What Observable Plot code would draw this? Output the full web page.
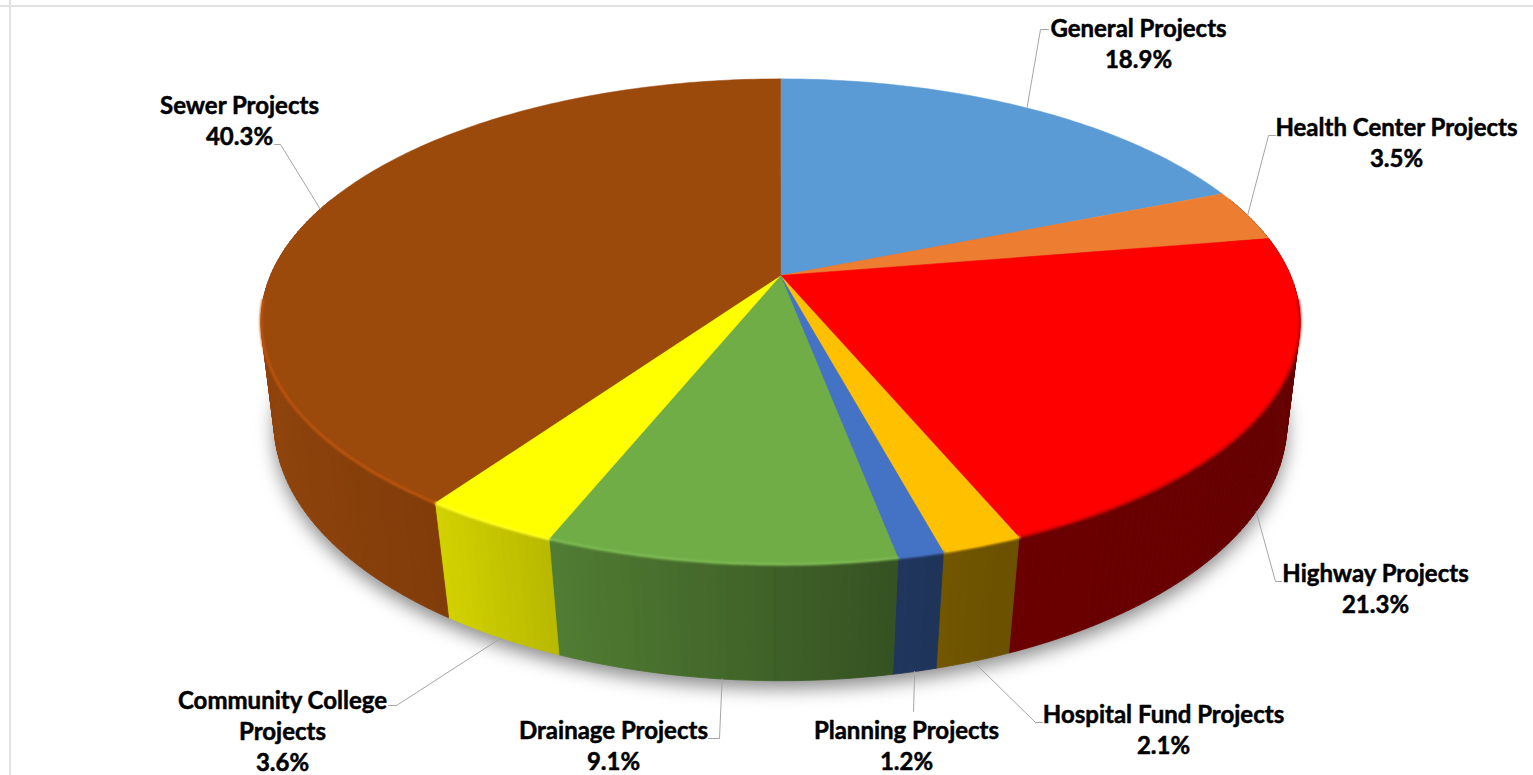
<!DOCTYPE html>
<html>
<head>
<meta charset="utf-8">
<style>html,body{margin:0;padding:0;background:#fff}svg{display:block}</style>
<script src="https://cdn.jsdelivr.net/npm/d3@7"></script>
<script src="https://cdn.jsdelivr.net/npm/@observablehq/plot@0.6"></script>
</head>
<body>
<div id="chart"></div>
<script>
// ---- data
const categories = ["General Projects","Health Center Projects","Highway Projects","Hospital Fund Projects","Planning Projects","Drainage Projects","Community College\nProjects","Sewer Projects"];
const shares = [18.9,3.5,21.3,2.1,1.2,9.1,3.6,40.3];
const topColors = ["#5b9bd5","#ed7d31","#ff0000","#ffc000","#4472c4","#70ad47","#ffff00","#9c490c"];
const rimColors = ["#5b9bd5","#ed7d31","#c40000","#ffc000","#4472c4","#7fbb55","#ffff20","#c0560f"];

// ---- layout of the labels and their leaders (page pixels)
const labelX = [1138,1396,1375,1163,906,613,282,239];
const labelY = [14,113,559,700,716,716,686,91];
const leaderFromWall = [false,false,true,true,true,true,true,false];
const leaderBend = [[1040,29],[1268,135],[1275,581],[1035,722],[913,711],[719,738],[396,705],[280,144]];
const leaderEnd = [[1048,29],[1275,135],[1281,581],[1042,722],[913,711],[708,738],[388,705],[274,144]];

// ---- perspective of the disc
const cx = 780;
const topRing = {a:510, b:234, y0:275, k:0.19};
const botRing = {a:499, b:250, y0:379, k:0.17};
const project = (ring, t) => {
  const d = 1 + ring.k*Math.cos(t);
  return [cx + ring.a*Math.sin(t)/d, ring.y0 - ring.b*Math.cos(t)/d];
};
const angle = p => p/100*2*Math.PI;
const cum = d3.cumsum(shares);
const starts = shares.map((_, i) => i ? cum[i-1] : 0);
const shade = d3.scaleLinear().domain([-1,-.65,-.43,.21,.44,1]).range([.92,.82,.72,.48,.42,.4]).clamp(true);
const darken = (c, f) => { const r = d3.rgb(c); return d3.rgb(r.r*f, r.g*f, r.b*f).formatHex(); };

const STEP = 0.25; // percent per arc sample
const samples = i => {
  const n = Math.max(2, Math.ceil(shares[i]/STEP));
  return d3.range(n + 1).map(j => angle(starts[i] + shares[i]*j/n));
};

// top faces
const faces = categories.flatMap((c, i) => {
  const pts = [[cx, topRing.y0], ...samples(i).map(t => project(topRing, t)), [cx, topRing.y0]];
  return pts.map(([x, y]) => ({x, y, id: i, fill: topColors[i]}));
});
// rim highlight along the front edge only
const rims = categories.flatMap((c, i) =>
  samples(i).filter(t => Math.cos(t) < -0.1).map(t => {
    const [x, y] = project(topRing, t);
    return {x, y, id: i, stroke: rimColors[i]};
  }));
// side wall strips, with the shade changing across the front
const wall = [];
categories.forEach((c, i) => {
  const ts = samples(i);
  for (let j = 0; j < ts.length - 1; j++) {
    const t0 = ts[j], t1 = ts[j+1];
    if (Math.cos((t0+t1)/2) > 0.35) continue;
    const [a, b, e, f] = [project(topRing,t0), project(topRing,t1), project(botRing,t1), project(botRing,t0)];
    const col = darken(topColors[i], shade((a[0]-cx)/520));
    const id = `${i}-${j}`;
    [a, b, e, f, a].forEach(([x, y]) => wall.push({x, y, id, fill: col}));
  }
});
// ground shadow
const shadow = d3.range(0, 100.5, 0.5).map(p => {
  const [x, y] = project(botRing, angle(p));
  return {x, y: y + 8};
});
// leaders
const leaders = categories.flatMap((c, i) => {
  const t = angle(starts[i] + shares[i]/2);
  const s = project(leaderFromWall[i] ? botRing : topRing, t);
  return [s, leaderBend[i], leaderEnd[i]].map(([x, y]) => ({x, y, id: i}));
});
const labels = categories.map((c, i) => ({x: labelX[i], y: labelY[i], text: `${c}\n${shares[i].toFixed(1)}%`}));

const chart = Plot.plot({
  width: 1533, height: 775, margin: 0,
  x: {domain: [0,1533], range: [0,1533], axis: null},
  y: {domain: [0,775], range: [0,775], axis: null},
  color: {type: "identity"},
  marks: [
    Plot.ruleY([5.5], {stroke: "#e2e2e2", strokeWidth: 2}),
    Plot.ruleX([9.5], {stroke: "#e2e2e2", strokeWidth: 2}),
    Plot.line(shadow, {x: "x", y: "y", fill: "#8c8c8c", stroke: "none", curve: "linear", imageFilter: "blur(9px)"}),
    Plot.line(wall, {x: "x", y: "y", z: "id", fill: "fill", stroke: "fill", strokeWidth: 0.8, curve: "linear", imageFilter: "blur(0.4px)"}),
    Plot.line(faces, {x: "x", y: "y", z: "id", fill: "fill", stroke: "fill", strokeWidth: 0.5, curve: "linear", imageFilter: "blur(0.4px)"}),
    Plot.line(rims, {x: "x", y: "y", z: "id", stroke: "stroke", strokeWidth: 2.5, curve: "linear", imageFilter: "blur(0.8px)"}),
    Plot.line(leaders, {x: "x", y: "y", z: "id", stroke: "#a6a6a6", strokeWidth: 1, curve: "linear"}),
    Plot.text(labels, {x: "x", y: "y", text: "text", lineAnchor: "top", lineHeight: 1.3, textAnchor: "middle",
      fontFamily: "Lato", fontWeight: 700, fontSize: 24, fill: "#000", stroke: "#000", strokeWidth: 0.5})
  ]
});
document.getElementById("chart").appendChild(chart);
</script>
</body>
</html>
